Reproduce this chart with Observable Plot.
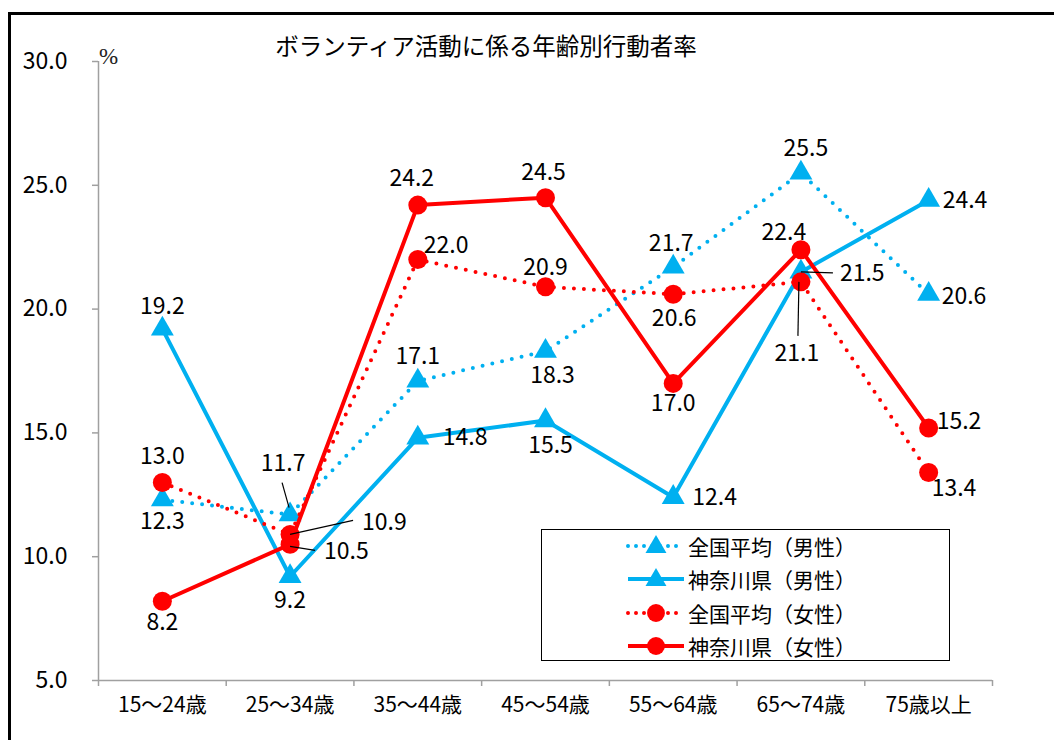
<!DOCTYPE html>
<html>
<head>
<meta charset="utf-8">
<script src="https://cdn.jsdelivr.net/npm/d3@7"></script>
<script src="https://cdn.jsdelivr.net/npm/@observablehq/plot@0.6"></script>
<style>
  html, body { margin: 0; padding: 0; background: #fff; overflow: hidden; }
  #wrap { position: relative; width: 1054px; height: 740px; font-family: "Noto Sans CJK JP", sans-serif; }
  #frame { position: absolute; left: 8px; top: 12px; width: 1200px; height: 900px; border-left: 3px solid #000; border-top: 3px solid #000; box-sizing: border-box; }
  #title { position: absolute; left: 0; width: 972px; top: 30px; text-align: center; font-size: 23.5px; line-height: 30px; color: #000; }
  #chart { position: absolute; left: 0; top: 0; }
  #legend { position: absolute; left: 541px; top: 529px; width: 409px; height: 132px; border: 1.5px solid #000; box-sizing: border-box; background: #fff; }
  .row { position: absolute; left: 84px; height: 30px; display: flex; align-items: center; }
  .row svg { width: 60px; height: 24px; margin-right: 2px; }
  .row span { font-size: 21px; line-height: 30px; color: #000; }
</style>
</head>
<body>
<div id="wrap">
  <div id="chart"></div>
  <div id="frame"></div>
  <div id="title"></div>
  <div id="legend"></div>
</div>
<script>
// ---- data ----
const categories = ["15～24歳", "25～34歳", "35～44歳", "45～54歳", "55～64歳", "65～74歳", "75歳以上"];
const seriesNames = ["全国平均（男性）", "神奈川県（男性）", "全国平均（女性）", "神奈川県（女性）"];
const zenkokuMale   = [12.3, 11.7, 17.1, 18.3, 21.7, 25.5, 20.6];
const kanagawaMale  = [19.2,  9.2, 14.8, 15.5, 12.4, 21.5, 24.4];
const zenkokuFemale = [13.0, 10.9, 22.0, 20.9, 20.6, 21.1, 13.4];
const kanagawaFemale= [ 8.2, 10.5, 24.2, 24.5, 17.0, 22.4, 15.2];
const yTicks = [5, 10, 15, 20, 25, 30];
const titleText = "ボランティア活動に係る年齢別行動者率";
const unitText = "%";

// ---- styles ----
const BLUE = "#00B0F0", RED = "#FF0000", GRAY = "#A0A0A0";
const seriesValues = [zenkokuMale, kanagawaMale, zenkokuFemale, kanagawaFemale];
const seriesStyle = [
  {color: BLUE, dotted: true,  symbol: "triangle"},
  {color: BLUE, dotted: false, symbol: "triangle"},
  {color: RED,  dotted: true,  symbol: "circle"},
  {color: RED,  dotted: false, symbol: "circle"}
];
// label placement (pixel offsets from point): [dx, dy, anchor]
const labelOffsets = [
  [[0,22,"middle"],[-7,-51,"middle"],[0,-24,"middle"],[7,24,"middle"],[-2,-23,"middle"],[5,-24,"middle"],[13,2,"start"]],
  [[0,-22,"middle"],[0,24,"middle"],[25,0,"start"],[5,25,"middle"],[19,0,"start"],[39,2,"start"],[14,0,"start"]],
  [[0,-26,"middle"],[72,-12,"start"],[6,-14,"start"],[0,-19,"middle"],[1,24,"middle"],[-4,72,"middle"],[3,16,"start"]],
  [[0,21,"middle"],[34,7,"start"],[-6,-26,"middle"],[-2,-25,"middle"],[0,20,"middle"],[-17,-17,"middle"],[8,-6,"start"]]
];
// leader lines: series, index, from [dx,dy], to [dx,dy] in pixels
const leaders = [
  [0, 1, [-1, -7], [-8, -32]],
  [2, 1, [0, 0], [63, -14]],
  [3, 1, [0, 2], [25, 6]],
  [1, 5, [0, 0], [32, 1]],
  [2, 5, [-2, 0], [-3, 54]]
];

const W = 1054, H = 740, ML = 98, MR = 62, MT = 61, MB = 60;
const kx = categories.length / (W - ML - MR);
const ky = (yTicks[yTicks.length - 1] - yTicks[0]) / (H - MT - MB);

const rows = [];
seriesValues.forEach((vals, s) => vals.forEach((v, i) => rows.push({s, i, x: i + 0.5, v})));

const marks = [];
// axes
marks.push(Plot.ruleY([yTicks[0]], {x1: 0, x2: categories.length, stroke: GRAY, strokeWidth: 1.5}));
marks.push(Plot.ruleX([0], {y1: yTicks[0], y2: yTicks[yTicks.length - 1], stroke: GRAY, strokeWidth: 1.5}));
marks.push(Plot.axisY({ticks: yTicks, tickSize: 6, tickFormat: () => "", stroke: GRAY, strokeWidth: 1.5}));
marks.push(Plot.axisX({ticks: d3.range(categories.length + 1), tickSize: 6, tickFormat: () => "", stroke: GRAY, strokeWidth: 1.5}));
marks.push(Plot.text(yTicks, {y: d => d, frameAnchor: "left", dx: -31, text: d => d.toFixed(1), textAnchor: "end",
  fontSize: 23, fontFamily: "Noto Sans CJK JP", fill: "#000"}));
marks.push(Plot.text(categories, {x: (d, i) => i + 0.5, frameAnchor: "bottom", dy: 31, text: d => d,
  fontSize: 21, fontFamily: "Noto Sans CJK JP", fill: "#000"}));
marks.push(Plot.text([unitText], {frameAnchor: "top-left", dx: 10, dy: -14, text: d => d, textAnchor: "middle",
  fontSize: 23, fontFamily: "Liberation Serif", fill: "#222"}));

// series
seriesValues.forEach((vals, s) => {
  const st = seriesStyle[s];
  const data = rows.filter(r => r.s === s);
  marks.push(Plot.line(data, {x: "x", y: "v", stroke: st.color, strokeWidth: 4,
    strokeLinecap: st.dotted ? "round" : "butt", strokeLinejoin: "miter",
    strokeDasharray: st.dotted ? "0 10" : null}));
  marks.push(Plot.dot(data, {x: "x", y: "v", symbol: st.symbol, r: st.symbol === "triangle" ? 8.5 : 9.5,
    fill: st.color, stroke: "none"}));
});

// leader lines
const leaderRows = leaders.map(([s, i, f, t]) => {
  const v = seriesValues[s][i];
  return {x1: i + 0.5 + f[0] * kx, y1: v - f[1] * ky, x2: i + 0.5 + t[0] * kx, y2: v - t[1] * ky};
});
marks.push(Plot.link(leaderRows, {x1: "x1", y1: "y1", x2: "x2", y2: "y2", stroke: "#000", strokeWidth: 1.2}));

// data labels
rows.forEach(r => {
  const [dx, dy, anchor] = labelOffsets[r.s][r.i];
  marks.push(Plot.text([r], {x: "x", y: "v", text: d => d.v.toFixed(1), dx, dy, textAnchor: anchor,
    fontSize: 23, fontFamily: "Noto Sans CJK JP", fill: "#000"}));
});

const svg = Plot.plot({
  width: W, height: H,
  marginLeft: ML, marginRight: MR, marginTop: MT, marginBottom: MB,
  x: {type: "linear", domain: [0, categories.length], axis: null},
  y: {type: "linear", domain: [yTicks[0], yTicks[yTicks.length - 1]], axis: null},
  style: {background: "transparent", overflow: "visible"},
  marks
});
document.getElementById("chart").appendChild(svg);
document.getElementById("title").textContent = titleText;

// legend
const legend = document.getElementById("legend");
seriesNames.forEach((name, s) => {
  const st = seriesStyle[s];
  const row = document.createElement("div");
  row.className = "row";
  row.style.top = (1 + s * 33.3) + "px";
  const ns = "http://www.w3.org/2000/svg";
  const sv = document.createElementNS(ns, "svg");
  sv.setAttribute("viewBox", "0 0 60 24");
  const ln = document.createElementNS(ns, "line");
  ln.setAttribute("x1", 2); ln.setAttribute("x2", 58); ln.setAttribute("y1", 12); ln.setAttribute("y2", 12);
  ln.setAttribute("stroke", st.color); ln.setAttribute("stroke-width", 4);
  if (st.dotted) { ln.setAttribute("stroke-dasharray", "0 8"); ln.setAttribute("stroke-linecap", "round"); }
  sv.appendChild(ln);
  const mk = document.createElementNS(ns, "path");
  const sym = st.symbol === "triangle" ? d3.symbol(d3.symbolTriangle, 190) : d3.symbol(d3.symbolCircle, 250);
  mk.setAttribute("d", sym());
  mk.setAttribute("transform", st.symbol === "triangle" ? "translate(30,13)" : "translate(30,12)");
  mk.setAttribute("fill", st.color);
  sv.appendChild(mk);
  row.appendChild(sv);
  const sp = document.createElement("span");
  sp.textContent = name;
  row.appendChild(sp);
  legend.appendChild(row);
});
</script>
</body>
</html>
